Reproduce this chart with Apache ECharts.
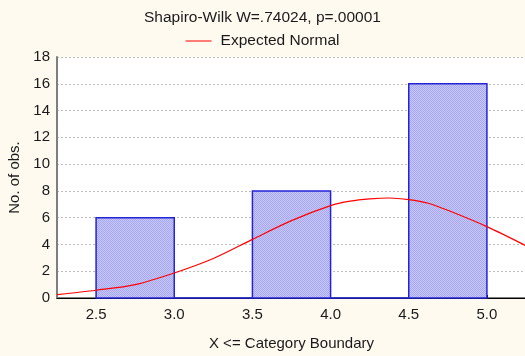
<!DOCTYPE html>
<html>
<head>
<meta charset="utf-8">
<script src="https://cdn.jsdelivr.net/npm/echarts@6/dist/echarts.min.js"></script>
<style>
  html, body { margin: 0; padding: 0; background: #FEFAEF; }
  #chart { width: 525px; height: 356px; }
</style>
</head>
<body>
<div id="chart"></div>
<script>
// Histogram bins (upper category boundaries) and observed counts
const binEdges = [2.5, 3.0, 3.5, 4.0, 4.5, 5.0];
const counts = [6, 0, 8, 0, 16];
const tickValues = [2.5, 3.0, 3.5, 4.0, 4.5, 5.0];

// Expected normal curve, sampled along the x range
const curveX = [2.25, 2.5, 2.75, 3.0, 3.25, 3.5, 3.75, 4.0, 4.125, 4.25, 4.375, 4.5, 4.625, 4.75, 5.0, 5.25];
const curveY = [0.25, 0.58, 1.0, 1.87, 2.95, 4.38, 5.78, 6.9, 7.23, 7.4, 7.47, 7.35, 7.08, 6.55, 5.33, 3.9];

const titleText = 'Shapiro-Wilk W=.74024, p=.00001';
const seriesName = 'Expected Normal';
const xName = 'X <= Category Boundary';
const yName = 'No. of obs.';

// Fine hatch texture for the bar fill
function hatch() {
  const c = document.createElement('canvas');
  c.width = 2; c.height = 2;
  const g = c.getContext('2d');
  g.fillStyle = '#C6C6F9'; g.fillRect(0, 0, 2, 2);
  g.fillStyle = '#A8A8EF'; g.fillRect(0, 0, 1, 1); g.fillRect(1, 1, 1, 1);
  return c;
}
const hatchImg = hatch();

const barData = counts.map((v, i) => [binEdges[i], binEdges[i + 1], v]);
const FONT = 'Liberation Sans';
const INK = '#1a1a1a';

const chart = echarts.init(document.getElementById('chart'));
chart.setOption({
  backgroundColor: '#FEFAEF',
  animation: false,
  textStyle: { fontFamily: FONT },
  title: {
    text: titleText, left: 'center', top: 5,
    textStyle: { fontFamily: FONT, fontSize: 15.5, fontWeight: 'normal', color: INK }
  },
  legend: {
    top: 28, left: 'center', itemWidth: 26, itemHeight: 10, itemGap: 8,
    textStyle: { fontFamily: FONT, fontSize: 15.5, color: INK, padding: [0, 0, 0, 4] },
    data: [{ name: seriesName, icon: 'path://M0,5 L26,5 L26,6 L0,6 Z' }]
  },
  grid: {
    left: 57, top: 57, right: -1, bottom: 58,
    outerBoundsMode: 'none',
    backgroundColor: '#FFFFFF', show: true, borderWidth: 0
  },
  xAxis: [{
    type: 'value', min: 2.25, max: 5.25,
    name: xName, nameLocation: 'middle', nameGap: 38,
    nameTextStyle: { fontFamily: FONT, fontSize: 15, color: INK },
    axisLine: { show: true, onZero: false, lineStyle: { color: '#7F7F7F', width: 2 } },
    axisTick: { show: false },
    splitLine: { show: false },
    axisLabel: {
      customValues: tickValues, margin: 9,
      fontFamily: FONT, fontSize: 15, color: INK,
      formatter: v => v.toFixed(1)
    }
  }, {
    type: 'value', min: 2.25, max: 5.25, position: 'top',
    axisLine: { show: true, lineStyle: { color: '#000000', width: 1 } },
    axisTick: { show: true, customValues: tickValues, inside: false, length: 3, lineStyle: { color: '#000' } },
    axisLabel: { show: false },
    splitLine: { show: false }
  }],
  yAxis: {
    type: 'value', min: 0, max: 18, interval: 2,
    name: yName, nameLocation: 'middle', nameGap: 33, nameRotate: 90,
    nameTextStyle: { fontFamily: FONT, fontSize: 15, color: INK },
    axisLine: { show: true, lineStyle: { color: '#7F7F7F', width: 2 } },
    axisTick: { show: false },
    axisLabel: { fontFamily: FONT, fontSize: 15, color: INK, margin: 7 },
    splitLine: { show: true, lineStyle: { color: '#BDBDBD', type: [2, 2], width: 1 } }
  },
  series: [{
    type: 'custom',
    name: 'bars',
    xAxisIndex: 0,
    data: barData,
    renderItem: (params, api) => {
      const p0 = api.coord([api.value(0), api.value(2)]);
      const p1 = api.coord([api.value(1), 0]);
      return {
        type: 'rect',
        shape: { x: p0[0], y: p0[1], width: p1[0] - p0[0], height: p1[1] - p0[1] },
        style: { fill: { image: hatchImg, repeat: 'repeat' }, stroke: '#2323D8', lineWidth: 1.5 }
      };
    },
    z: 2
  }, {
    type: 'line',
    name: seriesName,
    xAxisIndex: 0,
    data: curveX.map((x, i) => [x, curveY[i]]),
    smooth: 0.3,
    symbol: 'none',
    lineStyle: { color: '#FF0000', width: 1.2 },
    itemStyle: { color: '#FF0000' },
    clip: true,
    z: 3
  }]
});
</script>
</body>
</html>
